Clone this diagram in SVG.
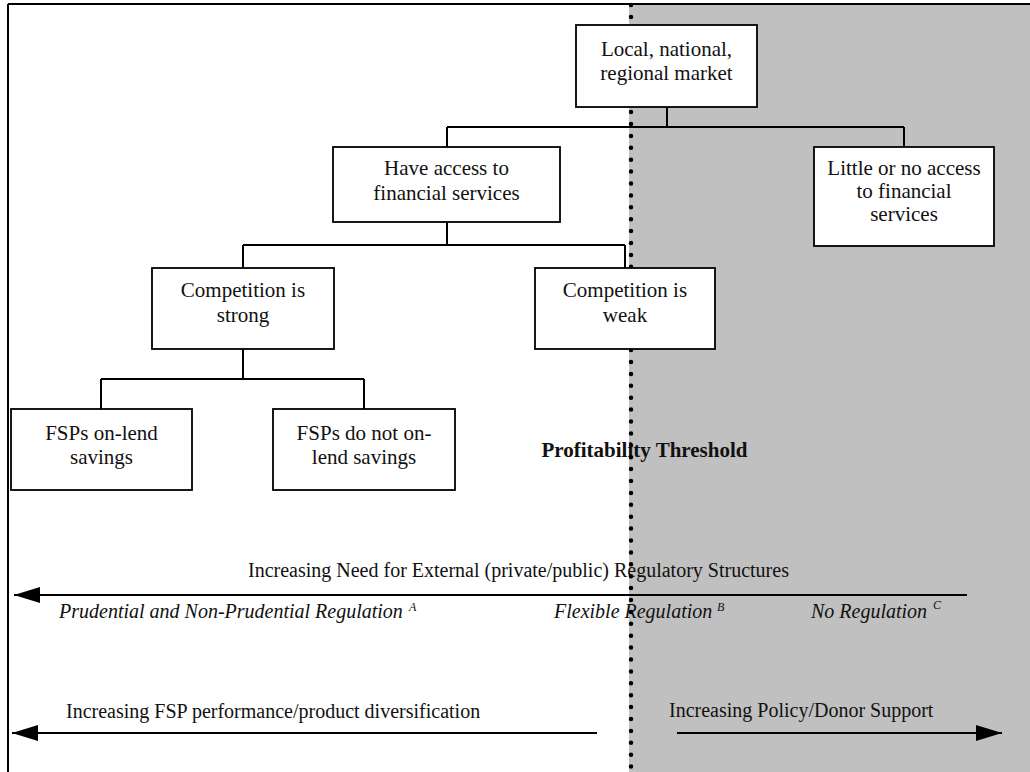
<svg xmlns="http://www.w3.org/2000/svg" width="1030" height="772" viewBox="0 0 1030 772">
<defs>
<style>
.box{fill:#fff;stroke:#000;stroke-width:1.8}
.t{font-family:"Liberation Serif","Times New Roman",serif;font-size:21px;fill:#111;text-anchor:middle}
.lab{font-family:"Liberation Serif","Times New Roman",serif;font-size:20px;fill:#111}
.it{font-family:"Liberation Serif","Times New Roman",serif;font-size:20px;font-style:italic;fill:#111}
.sup{font-family:"Liberation Serif","Times New Roman",serif;font-size:12px;font-style:italic;fill:#111}
.b{font-family:"Liberation Serif","Times New Roman",serif;font-size:21px;font-weight:bold;fill:#111;text-anchor:middle}
.c{fill:none;stroke:#000;stroke-width:2}
.arr{fill:none;stroke:#000;stroke-width:2}
</style>
<marker id="ah" markerUnits="userSpaceOnUse" markerWidth="27" markerHeight="18" refX="26" refY="8" orient="auto-start-reverse" viewBox="0 0 27 16">
<path d="M0,0 L26,8 L0,16 z" fill="#000"/>
</marker>
</defs>
<rect x="0" y="0" width="1030" height="772" fill="#fff"/>
<rect x="629" y="4" width="401" height="768" fill="#c0c0c0"/>
<line x1="8" y1="4" x2="1030" y2="4" stroke="#000" stroke-width="2"/>
<line x1="8" y1="4" x2="8" y2="772" stroke="#000" stroke-width="2"/>

<g id="labels">
<text class="b" x="644.5" y="457">Profitability Threshold</text>
<text class="lab" x="248" y="577">Increasing Need for External (private/public) Regulatory Structures</text>
<text class="it" x="59" y="618">Prudential and Non-Prudential Regulation</text>
<text class="sup" x="409" y="611">A</text>
<text class="it" x="554" y="618">Flexible Regulation</text>
<text class="sup" x="717" y="611">B</text>
<text class="it" x="811" y="618">No Regulation</text>
<text class="sup" x="933" y="609">C</text>
<text class="lab" x="66" y="718">Increasing FSP performance/product diversification</text>
<text class="lab" x="669" y="717">Increasing Policy/Donor Support</text>
</g>

<line id="threshold" x1="631" y1="5" x2="631" y2="772" stroke="#000" stroke-width="4.5" stroke-linecap="round" stroke-dasharray="0 11.9"/>

<g id="connectors">
<path class="c" d="M667,107 V127 M447,127 H904 M447,127 V147 M904,127 V147"/>
<path class="c" d="M447,222 V245 M243,245 H625 M243,245 V268 M625,245 V268"/>
<path class="c" d="M243,349 V379 M101,379 H364 M101,379 V409 M364,379 V409"/>
<line class="arr" x1="14" y1="595" x2="967" y2="595" marker-start="url(#ah)"/>
<line class="arr" x1="12" y1="733" x2="597" y2="733" marker-start="url(#ah)"/>
<line class="arr" x1="677" y1="733" x2="1002" y2="733" marker-end="url(#ah)"/>
</g>

<g id="n-market">
<rect class="box" x="576" y="25" width="181" height="82"/>
<text class="t" x="666.5" y="56">Local, national,</text>
<text class="t" x="666.5" y="80">regional market</text>
</g>
<g id="n-access">
<rect class="box" x="333" y="147" width="227" height="75"/>
<text class="t" x="446.5" y="175">Have access to</text>
<text class="t" x="446.5" y="200">financial services</text>
</g>
<g id="n-noaccess">
<rect class="box" x="814" y="147" width="180" height="99"/>
<text class="t" x="904" y="175">Little or no access</text>
<text class="t" x="904" y="198">to financial</text>
<text class="t" x="904" y="221">services</text>
</g>
<g id="n-strong">
<rect class="box" x="152" y="268" width="182" height="81"/>
<text class="t" x="243" y="297">Competition is</text>
<text class="t" x="243" y="322">strong</text>
</g>
<g id="n-weak">
<rect class="box" x="535" y="268" width="180" height="81"/>
<text class="t" x="625" y="297">Competition is</text>
<text class="t" x="625" y="322">weak</text>
</g>
<g id="n-onlend">
<rect class="box" x="11" y="409" width="181" height="81"/>
<text class="t" x="101.5" y="440">FSPs on-lend</text>
<text class="t" x="101.5" y="464">savings</text>
</g>
<g id="n-noonlend">
<rect class="box" x="273" y="409" width="182" height="81"/>
<text class="t" x="364" y="440">FSPs do not on-</text>
<text class="t" x="364" y="464">lend savings</text>
</g>
</svg>
